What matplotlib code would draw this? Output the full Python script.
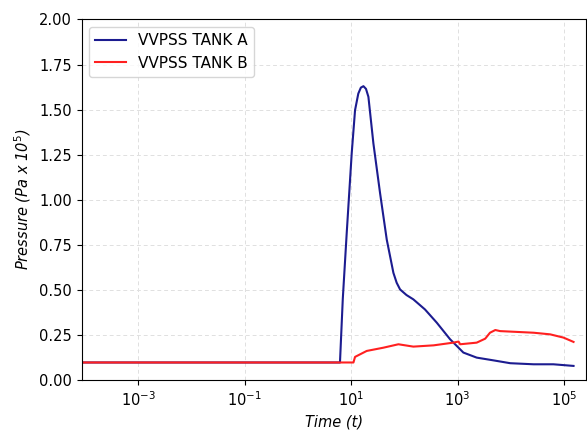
""" Tank pressure plot """

import matplotlib
matplotlib.use("Agg")
import matplotlib.pyplot as plt
import numpy as np

# Tank A (time in s, pressure in Pa x 1e5)
time_a = [8.7e-5, 6.2, 7.0, 8.3, 10.3, 11.9, 13.7, 15.3, 17.1, 19.1, 21.2, 26.3, 35.1,
          46.9, 62.5, 72.0, 83.4, 110, 148, 245, 407, 724, 1288, 2291, 4677, 9772,
          26900, 63100, 151000]
pressure_a = [0.098, 0.098, 0.45, 0.816, 1.258, 1.497, 1.589, 1.622, 1.630, 1.615, 1.571,
              1.313, 1.037, 0.779, 0.595, 0.540, 0.503, 0.472, 0.448, 0.392, 0.319, 0.227,
              0.153, 0.125, 0.110, 0.094, 0.088, 0.088, 0.079]

# Tank B
time_b = [8.7e-5, 11.1, 11.9, 19.7, 40.5, 77.6, 148, 355, 832, 1047, 1122, 2291, 3311,
          4074, 5129, 6310, 26900, 55000, 97700, 151000]
pressure_b = [0.098, 0.098, 0.129, 0.162, 0.180, 0.199, 0.186, 0.193, 0.208, 0.214, 0.199,
              0.208, 0.230, 0.263, 0.278, 0.272, 0.263, 0.254, 0.236, 0.212]


def main():
    """ Main function """

    fig = plt.figure(figsize=(5.87, 4.32), dpi=100)
    ax = fig.add_axes([0.139, 0.12, 0.859, 0.835])

    ax.plot(time_a, pressure_a, color="#1c1c90", linewidth=1.5, label="VVPSS TANK A")
    ax.plot(time_b, pressure_b, color="#ff2020", linewidth=1.5, label="VVPSS TANK B")

    ax.set_xscale("log")
    ax.set_xlim(8.7e-5, 2.57e5)
    ax.set_ylim(0, 2.0)
    ax.set_yticks(np.arange(0, 2.01, 0.25))
    ax.set_xticks([1e-3, 1e-1, 1e1, 1e3, 1e5])
    ax.minorticks_off()

    ax.grid(True, linestyle=(0, (4, 3)), color="#e0e0e0", linewidth=0.7)
    ax.tick_params(labelsize=10.5)

    ax.set_xlabel("Time (t)", fontstyle="italic", fontsize=10.5)
    ax.set_ylabel("Pressure (Pa x 10$^{5}$)", fontstyle="italic", fontsize=10.5)

    ax.legend(loc="upper left", fontsize=11)

    fig.savefig("out.png", dpi=100)


if __name__ == "__main__":
    main()
